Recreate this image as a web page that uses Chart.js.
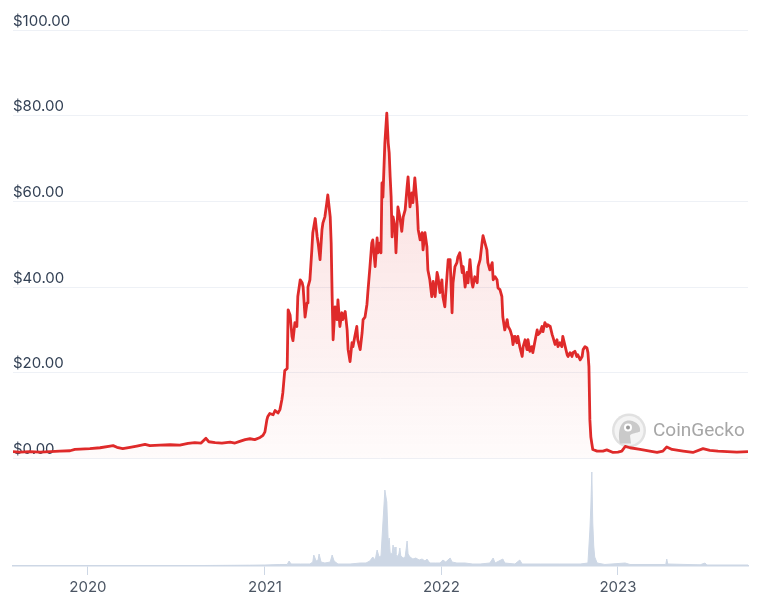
<!DOCTYPE html>
<html>
<head>
<meta charset="utf-8">
<script src="https://cdn.jsdelivr.net/npm/chart.js@4.4.0/dist/chart.umd.min.js"></script>
<style>
  html, body { margin: 0; padding: 0; background: #ffffff; }
  #wrap { width: 773px; height: 600px; position: relative; }
</style>
</head>
<body>
<div id="wrap"><canvas id="priceChart"></canvas></div>
<script>
// days are counted from the first trading day
const startDate = "2019-07-30";
const yearLabels = ["2020", "2021", "2022", "2023"];
const priceTickValues = [0, 20, 40, 60, 80, 100];

// price in USD
const priceDays = [0, 14, 35, 56, 77, 97, 118, 128, 139, 159, 180, 201, 207, 215, 227, 242, 256, 273, 283, 304,
  325, 345, 362, 376, 389, 399, 405, 418, 432, 449, 459, 469, 480, 490, 500, 511, 517, 521, 525, 527,
  531, 538, 542, 548, 552, 556, 558, 562, 567, 569, 573, 577, 579, 583, 587, 589, 594, 598, 600, 604,
  608, 610, 614, 618, 620, 625, 629, 631, 635, 639, 641, 645, 649, 651, 656, 658, 660, 662, 666, 670,
  672, 676, 680, 682, 687, 691, 693, 697, 701, 703, 707, 711, 713, 718, 722, 724, 728, 732, 734, 738,
  742, 744, 749, 753, 755, 759, 761, 763, 765, 769, 773, 776, 778, 780, 782, 784, 786, 790, 792, 794,
  796, 800, 804, 807, 811, 815, 817, 821, 825, 827, 831, 836, 838, 842, 846, 848, 852, 856, 858, 862,
  866, 869, 873, 877, 879, 883, 887, 889, 893, 898, 900, 904, 908, 910, 914, 918, 920, 924, 929, 931,
  935, 939, 941, 945, 949, 951, 955, 960, 962, 966, 970, 972, 976, 980, 982, 986, 991, 993, 997, 1001,
  1003, 1007, 1011, 1013, 1017, 1022, 1024, 1028, 1032, 1034, 1038, 1042, 1044, 1048, 1053, 1055, 1059, 1063, 1065, 1069,
  1073, 1075, 1080, 1084, 1086, 1090, 1094, 1096, 1100, 1104, 1106, 1111, 1115, 1117, 1121, 1125, 1127, 1131, 1135, 1137,
  1142, 1146, 1148, 1152, 1156, 1158, 1162, 1166, 1168, 1173, 1177, 1179, 1183, 1187, 1189, 1191, 1193, 1195, 1197, 1199,
  1208, 1220, 1228, 1241, 1251, 1259, 1266, 1276, 1297, 1317, 1332, 1344, 1352, 1363, 1386, 1406, 1427, 1441, 1458, 1477,
  1497, 1520];
const prices = [1.6, 1.5, 1.6, 1.5, 1.6, 1.7, 1.8, 2.1, 2.2, 2.3, 2.5, 2.9, 3.0, 2.6, 2.3, 2.6, 2.9, 3.3, 3.0, 3.1,
  3.2, 3.1, 3.5, 3.7, 3.6, 4.7, 3.9, 3.7, 3.6, 3.8, 3.6, 4.0, 4.4, 4.6, 4.4, 4.9, 5.4, 6.2, 9.0, 9.8,
  10.5, 10.2, 11.2, 10.6, 11.4, 13.7, 15.3, 20.5, 21.0, 34.7, 33.5, 28.5, 27.5, 31.7, 30.8, 37.8, 41.7, 41.0, 40.0, 33.0,
  36.3, 40.0, 41.7, 48.7, 52.7, 56.0, 51.8, 50.3, 46.4, 53.4, 55.0, 56.4, 59.7, 61.5, 56.4, 50.3, 37.8, 27.7, 35.4, 32.4,
  37.0, 30.8, 34.0, 32.4, 34.3, 30.0, 25.4, 22.6, 27.0, 26.1, 28.5, 30.8, 27.7, 25.4, 29.4, 32.4, 33.0, 36.0, 39.0, 44.5,
  50.3, 51.0, 44.8, 51.5, 48.0, 50.3, 48.0, 64.3, 61.0, 73.6, 80.6, 73.6, 71.3, 65.7, 61.0, 51.7, 56.4, 54.0, 48.0, 53.4,
  58.7, 56.4, 53.0, 56.4, 58.0, 63.4, 65.7, 58.7, 62.0, 59.7, 65.5, 58.7, 53.4, 51.0, 52.7, 48.7, 52.7, 49.4, 44.0, 41.7,
  37.8, 41.3, 37.8, 43.4, 42.4, 38.7, 41.7, 37.8, 35.4, 43.4, 46.4, 46.4, 34.0, 41.0, 44.8, 45.7, 47.0, 48.0, 43.4, 44.8,
  40.0, 43.4, 41.0, 46.4, 41.0, 40.0, 42.4, 41.0, 44.8, 46.4, 50.3, 52.0, 50.3, 48.7, 45.7, 44.0, 45.7, 41.7, 42.4, 41.7,
  39.8, 39.4, 37.8, 33.0, 30.0, 32.4, 30.8, 30.0, 28.5, 26.6, 28.5, 27.0, 28.5, 26.1, 23.8, 26.1, 27.7, 25.4, 27.7, 25.0,
  26.1, 24.7, 27.7, 30.0, 28.9, 29.4, 30.8, 29.6, 31.7, 30.8, 31.2, 30.8, 28.9, 28.2, 26.6, 27.7, 26.1, 27.0, 26.1, 28.5,
  26.1, 24.2, 23.8, 24.7, 23.8, 24.7, 25.0, 23.8, 24.2, 23.0, 23.8, 25.4, 26.1, 25.8, 24.7, 21.5, 9.0, 5.0, 3.5, 2.1,
  1.7, 1.7, 2.0, 1.4, 1.5, 1.7, 2.8, 2.5, 2.1, 1.7, 1.4, 1.7, 2.7, 2.1, 1.7, 1.4, 2.3, 1.9, 1.7, 1.6,
  1.5, 1.6];

// 24h volume in USD millions
const volumeDays = [0, 180, 387, 490, 521, 552, 567, 571, 575, 594, 614, 620, 622, 627, 631, 633, 637, 645, 656, 660,
  664, 672, 697, 718, 730, 738, 744, 749, 753, 757, 761, 765, 767, 769, 771, 773, 776, 778, 780, 784,
  786, 788, 790, 792, 794, 798, 800, 802, 807, 811, 815, 817, 821, 827, 833, 840, 846, 852, 856, 862,
  873, 883, 889, 895, 904, 908, 918, 935, 951, 966, 986, 993, 997, 1013, 1017, 1038, 1048, 1053, 1090, 1131,
  1173, 1189, 1193, 1195, 1197, 1199, 1201, 1203, 1208, 1224, 1266, 1276, 1338, 1350, 1352, 1354, 1421, 1431, 1435, 1520];
const volumes = [12, 12, 12, 20, 25, 38, 38, 125, 50, 50, 50, 100, 275, 125, 150, 300, 100, 75, 100, 275,
  125, 50, 50, 75, 75, 125, 225, 150, 400, 225, 250, 1075, 1475, 1900, 1750, 1600, 575, 700, 325, 300,
  525, 350, 475, 300, 225, 300, 450, 250, 200, 225, 625, 300, 225, 175, 200, 150, 175, 125, 175, 75,
  75, 75, 150, 100, 200, 100, 75, 75, 50, 50, 75, 200, 75, 175, 75, 50, 150, 50, 50, 50,
  50, 75, 900, 1500, 2350, 1075, 500, 225, 75, 38, 75, 38, 38, 38, 175, 50, 30, 75, 25, 25];

const LINE_COLOR = "#df2a2a";
const VOLUME_COLOR = "#cdd7e5";
const GRID_COLOR = "#eef1f6";

const dayMs = 24 * 3600 * 1000;
const startMs = Date.parse(startDate);
const yearTicks = yearLabels.map(y => Math.round((Date.UTC(+y, 0, 1) - startMs) / dayMs));

// CoinGecko watermark in the lower right of the price area
const watermark = {
    id: 'watermark',
    beforeDatasetsDraw(chart) {
        const { ctx, chartArea: { right }, scales: { y } } = chart;
        const cy = y.getPixelForValue(0) - 28;
        const cx = right - 119;
        ctx.save();
        ctx.fillStyle = "#e1e1e1";
        ctx.beginPath();
        ctx.arc(cx, cy, 17, 0, Math.PI * 2);
        ctx.fill();
        ctx.fillStyle = "#f4f4f4";
        ctx.beginPath();
        ctx.arc(cx, cy, 14.5, 0, Math.PI * 2);
        ctx.fill();
        // gecko head
        ctx.fillStyle = "#cacaca";
        ctx.beginPath();
        ctx.moveTo(cx - 9, cy + 13);
        ctx.bezierCurveTo(cx - 12, cy, cx - 8, cy - 11, cx + 1, cy - 10);
        ctx.bezierCurveTo(cx + 8, cy - 9, cx + 12, cy - 4, cx + 11, cy + 1);
        ctx.bezierCurveTo(cx + 8, cy + 3, cx + 3, cy + 2, cx + 1, cy + 5);
        ctx.lineTo(cx + 2, cy + 13);
        ctx.closePath();
        ctx.fill();
        ctx.fillStyle = "#ffffff";
        ctx.beginPath();
        ctx.arc(cx - 1, cy - 3, 4, 0, Math.PI * 2);
        ctx.fill();
        ctx.fillStyle = "#9a9a9a";
        ctx.beginPath();
        ctx.arc(cx - 1, cy - 3, 2, 0, Math.PI * 2);
        ctx.fill();
        ctx.fillStyle = "#a6a6a6";
        ctx.font = "19px Roboto, 'Liberation Sans', sans-serif";
        ctx.textBaseline = "middle";
        ctx.textAlign = "left";
        ctx.fillText("CoinGecko", cx + 24, cy + 1);
        ctx.restore();
    }
};

function priceFill(context) {
    const chart = context.chart;
    if (!chart.chartArea) return "rgba(223, 42, 42, 0.08)";
    const y = chart.scales.y;
    const g = chart.ctx.createLinearGradient(0, y.getPixelForValue(80), 0, y.getPixelForValue(0));
    g.addColorStop(0, "rgba(223, 42, 42, 0.16)");
    g.addColorStop(1, "rgba(223, 42, 42, 0.02)");
    return g;
}

new Chart("priceChart", {
    type: 'line',
    data: {
        datasets: [{
            label: 'Price',
            data: priceDays.map((d, i) => ({ x: d, y: prices[i] })),
            yAxisID: 'y',
            borderColor: LINE_COLOR,
            borderWidth: 2.8,
            borderJoinStyle: 'round',
            pointRadius: 0,
            tension: 0,
            fill: 'origin',
            backgroundColor: priceFill,
            order: 1
        }, {
            label: 'Volume',
            data: volumeDays.map((d, i) => ({ x: d, y: volumes[i] })),
            yAxisID: 'yv',
            borderColor: VOLUME_COLOR,
            borderWidth: 1,
            pointRadius: 0,
            tension: 0,
            fill: 'origin',
            backgroundColor: VOLUME_COLOR,
            order: 2
        }]
    },
    options: {
        responsive: true,
        maintainAspectRatio: false,
        animation: false,
        layout: { padding: { top: 30, left: 13, right: 25, bottom: 1 } },
        scales: {
            x: {
                type: 'linear',
                min: 0,
                max: priceDays[priceDays.length - 1],
                afterBuildTicks: scale => { scale.ticks = yearTicks.map(v => ({ value: v })); },
                grid: { drawOnChartArea: false, drawTicks: true, tickLength: 9, color: VOLUME_COLOR },
                border: { display: true, color: VOLUME_COLOR, width: 1.5 },
                ticks: {
                    autoSkip: false,
                    maxRotation: 0,
                    padding: 3,
                    color: "#4b5563",
                    font: { family: "Inter", size: 15 },
                    callback: (value, index) => yearLabels[index]
                }
            },
            y: {
                position: 'left',
                min: -25.1,
                max: 100,
                z: 1,
                afterBuildTicks: scale => { scale.ticks = priceTickValues.map(v => ({ value: v })); },
                grid: { drawTicks: false, color: GRID_COLOR, lineWidth: 1 },
                border: { display: false },
                ticks: {
                    mirror: true,
                    padding: 0,
                    labelOffset: -9,
                    color: "#334155",
                    font: { family: "Inter", size: 15 },
                    callback: value => "$" + value.toFixed(2)
                }
            },
            yv: {
                position: 'right',
                display: false,
                min: 0,
                max: 13400
            }
        },
        plugins: {
            legend: { display: false },
            tooltip: { enabled: false }
        }
    },
    plugins: [watermark]
});
</script>
</body>
</html>
